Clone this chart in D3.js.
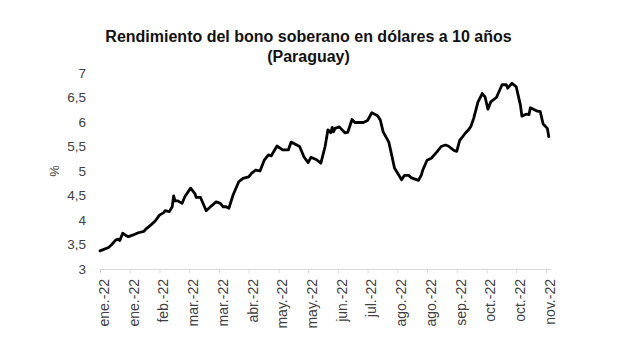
<!DOCTYPE html>
<html>
<head>
<meta charset="utf-8">
<script src="https://cdn.jsdelivr.net/npm/d3@7"></script>
<style>
  body { margin: 0; background: #fff; }
  text { font-family: "Liberation Sans", Arial, sans-serif; }
</style>
</head>
<body>
<div id="vis"></div>
<script>
// yield series
const dates = [
  "2022-01-03","2022-01-09","2022-01-11","2022-01-14","2022-01-16","2022-01-17","2022-01-19","2022-01-21","2022-01-23","2022-01-26",
  "2022-01-30","2022-02-03","2022-02-05","2022-02-08","2022-02-11","2022-02-14","2022-02-17","2022-02-18","2022-02-21","2022-02-23",
  "2022-02-24","2022-02-25","2022-02-27","2022-03-02","2022-03-04","2022-03-08","2022-03-11","2022-03-12","2022-03-15","2022-03-19",
  "2022-03-22","2022-03-26","2022-03-29","2022-03-31","2022-04-02","2022-04-04","2022-04-07","2022-04-11","2022-04-14","2022-04-18",
  "2022-04-20","2022-04-23","2022-04-26","2022-04-29","2022-05-02","2022-05-04","2022-05-08","2022-05-12","2022-05-16","2022-05-18",
  "2022-05-22","2022-05-24","2022-05-27","2022-05-30","2022-06-01","2022-06-05","2022-06-08","2022-06-11","2022-06-13","2022-06-15",
  "2022-06-16","2022-06-17","2022-06-18","2022-06-21","2022-06-25","2022-06-27","2022-06-30","2022-07-02","2022-07-08","2022-07-11",
  "2022-07-14","2022-07-18","2022-07-20","2022-07-22","2022-07-26","2022-07-28","2022-07-30","2022-08-02","2022-08-04","2022-08-06",
  "2022-08-09","2022-08-11","2022-08-16","2022-08-18","2022-08-19","2022-08-22","2022-08-25","2022-08-29","2022-09-01","2022-09-04",
  "2022-09-06","2022-09-10","2022-09-12","2022-09-14","2022-09-18","2022-09-20","2022-09-22","2022-09-24","2022-09-27","2022-09-30",
  "2022-10-02","2022-10-04","2022-10-06","2022-10-10","2022-10-14","2022-10-17","2022-10-18","2022-10-21","2022-10-24","2022-10-27",
  "2022-10-28","2022-10-31","2022-11-02","2022-11-03","2022-11-08","2022-11-10","2022-11-12","2022-11-15","2022-11-16"
];
const yields = [
  3.37,3.44,3.49,3.59,3.61,3.58,3.73,3.69,3.66,3.69,
  3.74,3.77,3.83,3.90,3.98,4.10,4.15,4.19,4.17,4.27,
  4.49,4.39,4.39,4.34,4.48,4.65,4.54,4.46,4.46,4.19,
  4.27,4.37,4.34,4.27,4.27,4.24,4.51,4.78,4.85,4.88,
  4.95,5.02,5.00,5.22,5.33,5.31,5.51,5.43,5.43,5.59,
  5.53,5.50,5.29,5.17,5.28,5.23,5.16,5.50,5.84,5.78,
  5.89,5.80,5.87,5.90,5.78,5.79,6.05,5.99,5.99,6.03,
  6.19,6.13,6.04,5.80,5.59,5.33,5.06,4.92,4.82,4.91,
  4.91,4.86,4.81,4.92,5.02,5.22,5.26,5.39,5.50,5.53,
  5.51,5.42,5.40,5.62,5.77,5.83,5.91,6.08,6.41,6.58,
  6.51,6.26,6.41,6.50,6.76,6.76,6.69,6.79,6.72,6.34,
  6.12,6.16,6.15,6.29,6.22,6.21,5.96,5.87,5.70
];

// x ticks every three weeks
const tickDates = [
  "2022-01-03","2022-01-24","2022-02-14","2022-03-07","2022-03-28","2022-04-18","2022-05-09","2022-05-30",
  "2022-06-20","2022-07-11","2022-08-01","2022-08-22","2022-09-12","2022-10-03","2022-10-24","2022-11-14"
];
const tickLabels = [
  "ene.-22","ene.-22","feb.-22","mar.-22","mar.-22","abr.-22","may.-22","may.-22",
  "jun.-22","jul.-22","ago.-22","ago.-22","sep.-22","oct.-22","oct.-22","nov.-22"
];
const yTicks = [3, 3.5, 4, 4.5, 5, 5.5, 6, 6.5, 7];

const W = 617, H = 352;
const parse = d3.timeParse("%Y-%m-%d");
const data = dates.map((d, i) => ({ date: parse(d), value: yields[i] }));

const svg = d3.select("#vis")
  .append("svg")
  .attr("width", W)
  .attr("height", H);

const x = d3.scaleTime()
  .domain([parse("2022-01-02"), parse("2022-11-17")])
  .range([98.6, 550.2]);

const y = d3.scaleLinear()
  .domain([3, 7])
  .range([269, 73]);

// title
svg.append("text")
  .attr("x", 308.5)
  .attr("y", 42)
  .attr("text-anchor", "middle")
  .attr("font-size", 16)
  .attr("font-weight", "bold")
  .attr("fill", "#111")
  .text("Rendimiento del bono soberano en dólares a 10 años");

svg.append("text")
  .attr("x", 308.5)
  .attr("y", 62)
  .attr("text-anchor", "middle")
  .attr("font-size", 16)
  .attr("font-weight", "bold")
  .attr("fill", "#111")
  .text("(Paraguay)");

// y axis (labels only)
const yAxis = svg.append("g")
  .attr("transform", "translate(86,0)")
  .call(d3.axisLeft(y)
    .tickValues(yTicks)
    .tickSize(0)
    .tickPadding(0)
    .tickFormat(d => String(d).replace(".", ",")));
yAxis.select(".domain").remove();
yAxis.selectAll("text")
  .attr("font-size", 13.5)
  .attr("font-family", "Liberation Sans, Arial, sans-serif")
  .attr("fill", "#404040");

svg.append("text")
  .attr("transform", "translate(59,171) rotate(-90)")
  .attr("text-anchor", "middle")
  .attr("font-size", 13)
  .attr("fill", "#404040")
  .text("%");

// x axis
const tickParsed = tickDates.map(parse);
const xAxis = svg.append("g")
  .attr("transform", `translate(0,${y(3)})`)
  .call(d3.axisBottom(x)
    .tickValues(tickParsed)
    .tickSize(4)
    .tickSizeOuter(0)
    .tickFormat((d, i) => tickLabels[i]));
xAxis.select(".domain").attr("stroke", "#d9d9d9");
xAxis.selectAll(".tick line").attr("stroke", "#d9d9d9");
xAxis.selectAll(".tick text")
  .attr("font-size", 14)
  .attr("font-family", "Liberation Sans, Arial, sans-serif")
  .attr("fill", "#404040")
  .attr("text-anchor", "end")
  .attr("transform", "rotate(-90)")
  .attr("x", -10)
  .attr("y", 0)
  .attr("dy", "0.6em");

// the series
const line = d3.line()
  .x(d => x(d.date))
  .y(d => y(d.value));

svg.append("path")
  .datum(data)
  .attr("fill", "none")
  .attr("stroke", "#000")
  .attr("stroke-width", 2.8)
  .attr("stroke-linejoin", "round")
  .attr("stroke-linecap", "round")
  .attr("d", line);
</script>
</body>
</html>
